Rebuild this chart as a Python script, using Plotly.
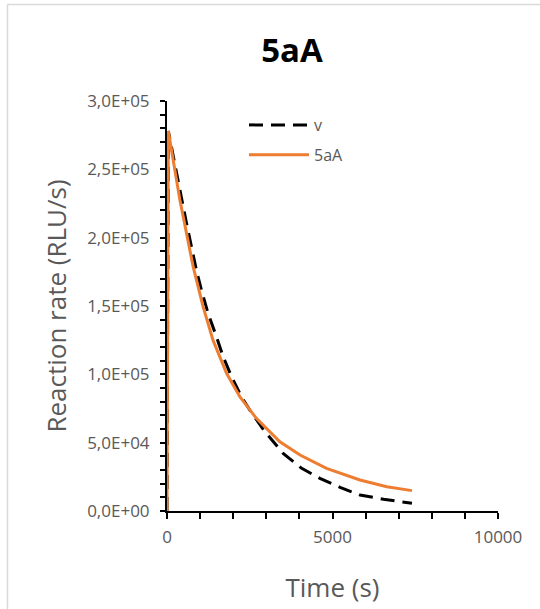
import plotly.graph_objects as go

# Data
time_v = [0, 40, 590, 740, 890, 1040, 1240, 1495, 1695, 1950, 2250, 2500, 2960, 3510, 4070, 4620, 5230, 5830, 6540, 7400]
rate_v = [0, 278000, 210500, 193400, 176000, 161700, 144700, 127500, 113000, 98300, 83600, 73900, 58000, 42200, 31200, 23900, 17300, 11700, 8600, 5600]

time_5aA = [0, 40, 390, 590, 790, 1090, 1390, 1800, 2200, 2700, 3410, 4020, 4820, 5830, 6640, 7400]
rate_5aA = [0, 278000, 227600, 203000, 178800, 149500, 125000, 100800, 83600, 67800, 50700, 41000, 31200, 22700, 17800, 14900]

y_tickvals = [0, 50000, 100000, 150000, 200000, 250000, 300000]
y_ticktext = ["0,0E+00", "5,0E+04", "1,0E+05", "1,5E+05", "2,0E+05", "2,5E+05", "3,0E+05"]
x_tickvals = [0, 5000, 10000]
x_ticktext = ["0", "5000", "10000"]

FONT = "Open Sans"
GRAY = "#595959"

fig = go.Figure()
fig.add_trace(go.Scatter(x=time_v, y=rate_v, mode="lines", name="v",
                         legendgroup="a",
                         line=dict(color="black", width=3, dash="14px,8px")))
fig.add_trace(go.Scatter(x=time_5aA, y=rate_5aA, mode="lines", name="5aA",
                         legendgroup="b",
                         line=dict(color="#ED7D31", width=3)))

L, R, T, B = 167, 42, 101, 98
W, H = 540, 609
pw, ph = W - L - R, H - T - B

def px2paper_x(px):
    return (px - L) / pw

def py2paper_y(py):
    return (H - B - py) / ph

fig.update_layout(
    width=W, height=H,
    margin=dict(l=L, r=R, t=T, b=B, pad=0, autoexpand=False),
    paper_bgcolor="white", plot_bgcolor="white",
    font=dict(family=FONT, color=GRAY),
    title=dict(text="<b>5aA</b>", x=292 / W, xref="container", xanchor="center",
               y=1 - 50 / H, yref="container", yanchor="middle",
               font=dict(family=FONT, size=33, color="black")),
    showlegend=True,
    legend=dict(x=px2paper_x(244), y=py2paper_y(108), xanchor="left", yanchor="top",
                bgcolor="rgba(0,0,0,0)", font=dict(family=FONT, size=16, color=GRAY),
                tracegroupgap=6, itemwidth=60),
    xaxis=dict(range=[0, 10000], tickvals=x_tickvals, ticktext=x_ticktext,
               showgrid=False, zeroline=False, showline=True, linecolor="black", linewidth=2,
               ticks="outside", ticklen=6, tickwidth=2, tickcolor="black",
               minor=dict(dtick=1000, ticks="outside", ticklen=6, tickwidth=2, tickcolor="black", showgrid=False),
               tickfont=dict(family=FONT, size=17, color=GRAY),
               ticklabelstandoff=4,
               layer="below traces",
               title=dict(text="Time (s)", font=dict(family=FONT, size=26, color=GRAY), standoff=31)),
    yaxis=dict(range=[0, 300000], tickvals=y_tickvals, ticktext=y_ticktext,
               showgrid=False, zeroline=False, showline=True, linecolor="black", linewidth=2,
               ticks="outside", ticklen=5, tickwidth=2, tickcolor="black",
               minor=dict(dtick=10000, ticks="outside", ticklen=5, tickwidth=2, tickcolor="black", showgrid=False),
               tickfont=dict(family=FONT, size=17, color=GRAY),
               ticklabelstandoff=7,
               layer="below traces",
               title=dict(text="Reaction rate (RLU/s)", font=dict(family=FONT, size=26, color=GRAY), standoff=13)),
    shapes=[
        dict(type="line", xref="paper", yref="paper",
             x0=px2paper_x(7.5), x1=px2paper_x(560), y0=py2paper_y(4.5), y1=py2paper_y(4.5),
             line=dict(color="#D9D9D9", width=1.5)),
        dict(type="line", xref="paper", yref="paper",
             x0=px2paper_x(7.5), x1=px2paper_x(7.5), y0=py2paper_y(4.5), y1=py2paper_y(620),
             line=dict(color="#D9D9D9", width=1.5)),
    ],
)

fig.write_html("out.html", config={"displayModeBar": False},
               post_script="document.body.style.margin='0';document.body.style.overflow='hidden';")
